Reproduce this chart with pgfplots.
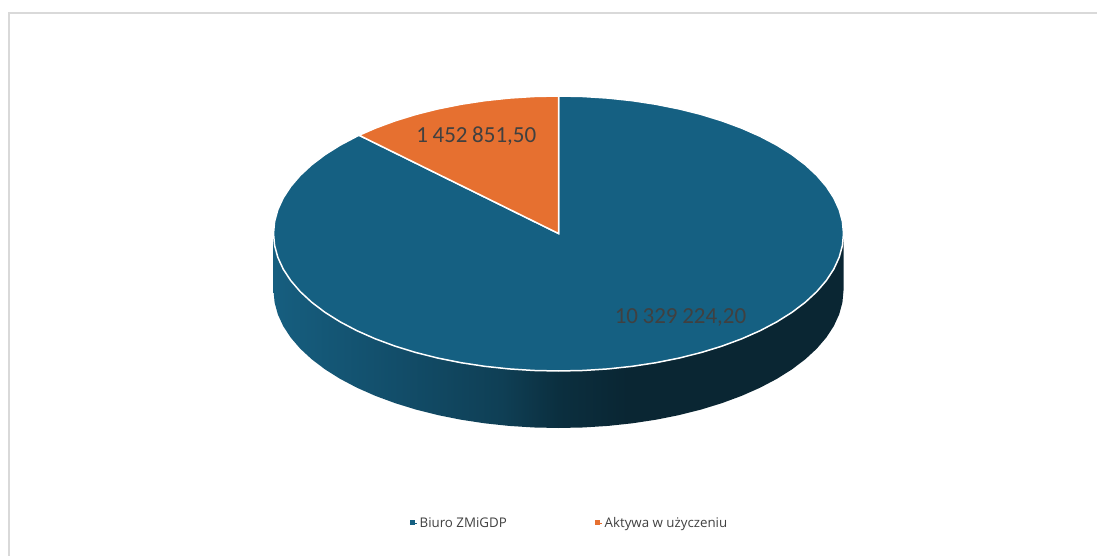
\documentclass[border=0pt]{standalone}
\usepackage{pgfplots}
\pgfplotsset{compat=1.18}
\usepackage{fontspec}
\setmainfont{Open Sans}
\newfontfamily\labelfont{Carlito}
\definecolor{cblue}{HTML}{156082}
\definecolor{corange}{HTML}{E67030}
\definecolor{ctext}{HTML}{404040}
\definecolor{cframe}{HTML}{D9D9D9}
\definecolor{s1}{HTML}{165E7F}
\definecolor{s2}{HTML}{124D69}
\definecolor{s3}{HTML}{0F3F55}
\definecolor{s4}{HTML}{0B2F3F}
\definecolor{s5}{HTML}{0A2633}
\pgfdeclarehorizontalshading{pieside}{100bp}{color(0bp)=(s1); color(25bp)=(s1); color(36bp)=(s2); color(45bp)=(s3); color(50bp)=(s4); color(56bp)=(s5); color(100bp)=(s5)}
\newcommand{\gap}{\kern4.6bp}
\begin{document}
\begin{tikzpicture}
\begin{axis}[
  x=1bp,y=1bp,
  xmin=0,xmax=1097,ymin=0,ymax=556,
  y dir=reverse,
  hide axis,
  legend style={at={(axis cs:569.5,523)},anchor=center,draw=none,fill=none,
    legend columns=2,font=\fontsize{13.3bp}{15bp}\selectfont\color{ctext},
    /tikz/every even column/.append style={column sep=86bp},
    inner sep=0pt,outer sep=0pt},
  legend cell align=left,
  legend image code/.code={\fill[#1] (0bp,-1.5bp) rectangle (4bp,2.5bp);\path (0bp,0bp) -- (7.5bp,0bp);},
]
% page background, keeps the picture at the reference's size
\addplot[fill=white,draw=none,forget plot] coordinates {(0,0)(1097,0)(1097,556)(0,556)} -- cycle;
% frame
\addplot[cframe,line width=2bp,forget plot] coordinates {(9.3,556) (9.3,13) (1097,13)};
% side wall
\addplot[draw=none,shading=pieside,forget plot] coordinates {
(843.5,233.5)(842.41,245.48)(839.17,257.38)(833.79,269.09)(826.31,280.53)(816.80,291.61)(805.32,302.25)(791.96,312.37)(776.82,321.88)(760.03,330.73)(741.70,338.83)(721.97,346.13)(701.00,352.58)(678.95,358.12)(655.98,362.71)(632.26,366.32)(607.99,368.91)(583.34,370.48)(558.5,371)
(533.66,370.48)(509.01,368.91)(484.74,366.32)(461.02,362.71)(438.05,358.12)(416.00,352.58)(395.03,346.13)(375.30,338.83)(356.97,330.73)(340.18,321.88)(325.04,312.37)(311.68,302.25)(300.20,291.61)(290.69,280.53)(283.21,269.09)(277.83,257.38)(274.59,245.48)(273.5,233.5)
(273.5,290.5)(274.59,302.48)(277.83,314.38)(283.21,326.09)(290.69,337.53)(300.20,348.61)(311.68,359.25)(325.04,369.37)(340.18,378.88)(356.97,387.73)(375.30,395.83)(395.03,403.13)(416.00,409.58)(438.05,415.12)(461.02,419.71)(484.74,423.32)(509.01,425.91)(533.66,427.48)(558.5,428)
(583.34,427.48)(607.99,425.91)(632.26,423.32)(655.98,419.71)(678.95,415.12)(701.00,409.58)(721.97,403.13)(741.70,395.83)(760.03,387.73)(776.82,378.88)(791.96,369.37)(805.32,359.25)(816.80,348.61)(826.31,337.53)(833.79,326.09)(839.17,314.38)(842.41,302.48)(843.5,290.5)
} -- cycle;
% blue slice: 10 329 224,20
\addplot[fill=cblue,draw=white,line width=1.5bp,line join=miter,forget plot] coordinates {
(558.5,233.5)(558.5,96)(583.34,96.52)(607.99,98.09)(632.26,100.68)(655.98,104.29)(678.95,108.88)(701.00,114.42)(721.97,120.87)(741.70,128.17)(760.03,136.27)(776.82,145.12)(791.96,154.63)(805.32,164.75)(816.80,175.39)(826.31,186.47)(833.79,197.91)(839.17,209.62)(842.41,221.52)
(843.5,233.5)(842.41,245.48)(839.17,257.38)(833.79,269.09)(826.31,280.53)(816.80,291.61)(805.32,302.25)(791.96,312.37)(776.82,321.88)(760.03,330.73)(741.70,338.83)(721.97,346.13)(701.00,352.58)(678.95,358.12)(655.98,362.71)(632.26,366.32)(607.99,368.91)(583.34,370.48)(558.5,371)
(533.66,370.48)(509.01,368.91)(484.74,366.32)(461.02,362.71)(438.05,358.12)(416.00,352.58)(395.03,346.13)(375.30,338.83)(356.97,330.73)(340.18,321.88)(325.04,312.37)(311.68,302.25)(300.20,291.61)(290.69,280.53)(283.21,269.09)(277.83,257.38)(274.59,245.48)(273.5,233.5)
(274.59,221.52)(277.83,209.62)(283.21,197.91)(290.69,186.47)(300.20,175.39)(311.68,164.75)(325.04,154.63)(340.18,145.12)(356.97,136.27)(359.1,135.26)
} -- cycle;
% orange slice: 1 452 851,50
\addplot[fill=corange,draw=white,line width=1.5bp,line join=miter,forget plot] coordinates {
(558.5,233.5)(359.1,135.26)(375.30,128.17)(395.03,120.87)(416.00,114.42)(438.05,108.88)(461.02,104.29)(484.74,100.68)(509.01,98.09)(533.66,96.52)(558.5,96)
} -- cycle;
\addlegendimage{cblue}
\addlegendentry{Biuro ZMiGDP}
\addlegendimage{corange}
\addlegendentry{Aktywa w użyczeniu}
\node[font=\labelfont\fontsize{23bp}{24bp}\selectfont,text=ctext,inner sep=0pt] at (axis cs:476.3,136) {1\gap{}452\gap{}851,50};
\node[font=\labelfont\fontsize{23bp}{24bp}\selectfont,text=ctext,inner sep=0pt] at (axis cs:680.5,318) {10\gap{}329\gap{}224,20};
\end{axis}
\end{tikzpicture}
\end{document}
